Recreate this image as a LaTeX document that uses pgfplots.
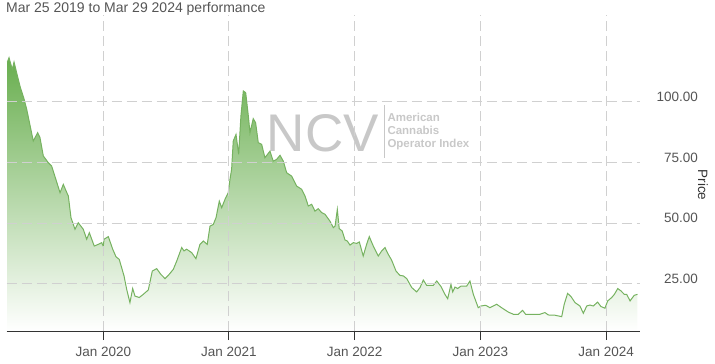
\documentclass[border=0pt]{standalone}
\usepackage{pgfplots}
\pgfplotsset{compat=1.18}
\usepackage{pgfplotstable}
\usepackage{fontspec}
\setmainfont{Liberation Sans}
\definecolor{linegreen}{RGB}{118,178,96}
\definecolor{fillgreen}{RGB}{104,174,78}
\definecolor{gridgray}{RGB}{208,208,208}
\definecolor{ticklab}{RGB}{85,85,85}
\definecolor{wm}{RGB}{200,200,200}
\definecolor{axisdark}{RGB}{51,51,51}

\pgfplotstableread{
x y
2019.236 116.3
2019.250 118.2
2019.276 113.4
2019.290 116.4
2019.337 106.5
2019.369 101.3
2019.391 96.9
2019.443 83.9
2019.478 87.3
2019.496 85.4
2019.523 77.7
2019.562 75.0
2019.589 73.6
2019.656 62.6
2019.682 66.0
2019.709 62.7
2019.722 61.2
2019.743 52.3
2019.775 47.5
2019.801 50.2
2019.841 47.5
2019.868 43.4
2019.889 46.1
2019.928 40.6
2019.960 41.3
2019.987 42.0
2020.000 40.6
2020.006 43.4
2020.040 44.5
2020.075 39.3
2020.101 36.2
2020.127 35.1
2020.165 28.3
2020.186 22.8
2020.212 17.3
2020.234 23.1
2020.252 20.0
2020.286 19.4
2020.318 20.7
2020.358 22.5
2020.390 30.3
2020.425 31.3
2020.457 29.0
2020.491 27.2
2020.517 28.5
2020.557 31.0
2020.584 34.4
2020.624 40.0
2020.642 38.6
2020.663 39.3
2020.703 37.9
2020.737 35.4
2020.769 41.3
2020.796 42.7
2020.827 41.3
2020.849 48.8
2020.875 49.5
2020.897 52.3
2020.923 59.1
2020.942 56.4
2020.968 59.8
2020.994 62.6
2021.008 68.1
2021.021 72.2
2021.034 83.9
2021.056 86.6
2021.077 78.4
2021.095 94.2
2021.114 104.5
2021.133 103.8
2021.154 94.2
2021.167 87.3
2021.193 93.1
2021.212 91.4
2021.233 83.2
2021.260 82.5
2021.286 77.0
2021.326 79.7
2021.352 75.6
2021.379 76.3
2021.406 78.0
2021.432 75.6
2021.459 70.8
2021.499 69.4
2021.539 65.3
2021.578 64.0
2021.605 61.2
2021.631 57.1
2021.658 57.8
2021.684 55.0
2021.710 56.0
2021.737 54.4
2021.764 53.7
2021.803 50.9
2021.830 48.2
2021.844 48.8
2021.862 55.7
2021.877 47.8
2021.901 46.8
2021.923 43.1
2021.941 42.7
2021.963 41.0
2021.989 42.0
2022.016 41.7
2022.037 42.3
2022.068 36.5
2022.095 41.3
2022.116 44.5
2022.148 40.6
2022.188 36.5
2022.215 38.6
2022.241 40.0
2022.267 37.2
2022.294 34.8
2022.329 30.3
2022.360 28.5
2022.387 28.3
2022.414 27.2
2022.454 23.5
2022.493 21.7
2022.520 23.5
2022.546 26.6
2022.573 24.4
2022.625 24.4
2022.653 26.2
2022.687 23.9
2022.718 20.7
2022.740 18.9
2022.766 24.8
2022.780 21.7
2022.798 23.7
2022.819 23.1
2022.846 24.1
2022.891 24.1
2022.917 26.2
2022.944 20.7
2022.983 15.2
2023.005 15.9
2023.042 16.2
2023.076 15.2
2023.130 16.6
2023.169 15.2
2023.222 13.4
2023.262 12.5
2023.302 12.5
2023.336 14.1
2023.360 12.5
2023.421 12.5
2023.474 12.5
2023.514 13.2
2023.540 12.2
2023.594 12.1
2023.647 11.5
2023.667 16.6
2023.694 21.1
2023.721 19.8
2023.753 17.3
2023.792 15.9
2023.819 12.9
2023.846 15.9
2023.872 16.3
2023.898 15.9
2023.933 17.5
2023.959 15.7
2023.991 15.0
2024.013 18.0
2024.045 19.4
2024.066 20.7
2024.093 23.1
2024.119 22.1
2024.145 20.7
2024.164 20.7
2024.191 18.0
2024.224 20.3
2024.250 20.7
}\ncvdata

\begin{document}
\begin{tikzpicture}
% watermark (behind the plot)
\node[anchor=base west, inner sep=0pt, text=wm, font=\fontsize{53bp}{60bp}\selectfont] at (260.2bp,179bp) {NCV};
\draw[wm, line width=1bp] (377.8bp,173bp) -- (377.8bp,226bp);
\node[anchor=base west, inner sep=0pt, text=wm, font=\fontsize{11.5bp}{13bp}\selectfont\bfseries] at (380.8bp,209bp) {American};
\node[anchor=base west, inner sep=0pt, text=wm, font=\fontsize{11.5bp}{13bp}\selectfont\bfseries] at (380.8bp,196bp) {Cannabis};
\node[anchor=base west, inner sep=0pt, text=wm, font=\fontsize{11.5bp}{13bp}\selectfont\bfseries] at (380.8bp,183bp) {Operator Index};

\begin{axis}[
  at={(0,0)}, anchor=south west,
  scale only axis, width=633.5bp, height=316bp,
  xmin=2019.23, xmax=2024.27, ymin=5.6, ymax=135.8,
  axis x line*=bottom, axis y line*=right,
  y axis line style={draw=none},
  x axis line style={draw=axisdark, line width=1bp, -},
  xtick={2020,2021,2022,2023,2024},
  xticklabels={Jan 2020,Jan 2021,Jan 2022,Jan 2023,Jan 2024},
  ytick={25,50,75,100},
  yticklabels={25.00,50.00,75.00,100.00},
  tick align=outside,
  major tick length=9bp,
  xtick style={draw=axisdark, line width=1bp},
  ytick style={draw=none},
  grid=major,
  major grid style={gridgray, line width=1bp, dash pattern=on 10bp off 5bp},
  axis on top,
  xticklabel style={font=\fontsize{13.5bp}{16bp}\selectfont, text=ticklab, anchor=base, inner sep=0pt, yshift=-16.7bp},
  yticklabel style={font=\fontsize{13.5bp}{16bp}\selectfont, text=ticklab, anchor=east, inner sep=0pt, xshift=49bp, yshift=5bp},
  /pgf/number format/assume math mode=true,
]
\addplot[draw=none, top color=fillgreen, bottom color=white] table[x=x,y=y] {\ncvdata} \closedcycle;
\addplot[linegreen, line width=1bp] table[x=x,y=y] {\ncvdata};
\end{axis}

\node[anchor=base west, inner sep=0pt, text=ticklab, font=\fontsize{14bp}{16bp}\selectfont] at (-0.5bp,318.3bp) {Mar 25 2019 to Mar 29 2024 performance};
\node[rotate=-90, inner sep=0pt, text=axisdark, font=\fontsize{13.5bp}{16bp}\selectfont] at (696.5bp,146bp) {Price};

\pgfresetboundingbox
\path[use as bounding box] (-6.5bp,-33bp) rectangle (708.5bp,331bp);
\end{tikzpicture}
\end{document}
